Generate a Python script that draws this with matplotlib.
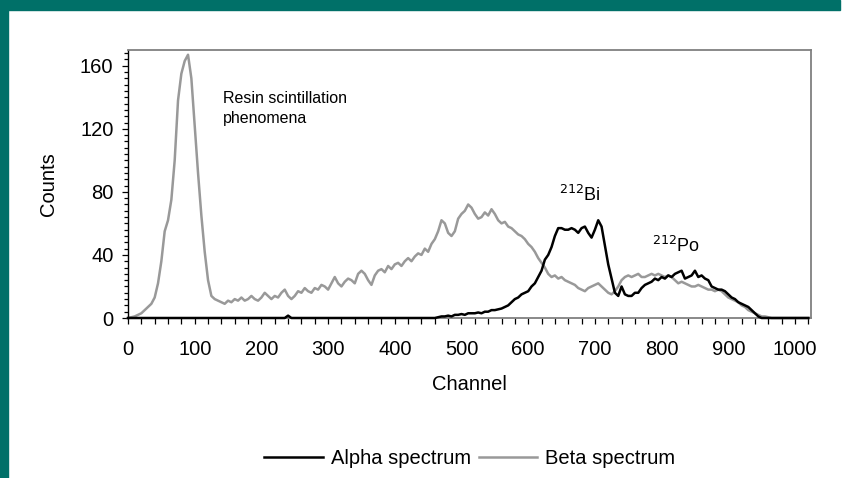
import numpy as np
import matplotlib
matplotlib.use("Agg")
import matplotlib.pyplot as plt
from matplotlib.patches import Rectangle
from matplotlib.ticker import MultipleLocator

plt.rcParams['font.family'] = ['Liberation Sans', 'DejaVu Sans']

# channel grid (every 5 channels) for both spectra
channels = list(range(0, 1025, 5))

beta_counts = [
    0, 0.5, 1, 2, 3, 5, 7, 9, 13, 22,                     # 0-45
    36, 55, 62, 75, 100, 138, 155, 163, 167, 152,         # 50-95
    122, 92, 65, 42, 24, 14, 12, 11, 10, 9,               # 100-145
    11, 10, 12, 11, 13, 11, 12, 14, 12, 11,               # 150-195
    13, 16, 14, 12, 14, 13, 16, 18, 14, 12,               # 200-245
    14, 17, 16, 19, 17, 16, 19, 18, 21, 20,               # 250-295
    18, 22, 26, 22, 20, 23, 25, 24, 22, 28,               # 300-345
    30, 28, 24, 21, 27, 30, 31, 29, 33, 31,               # 350-395
    34, 35, 33, 36, 38, 36, 39, 41, 40, 44,               # 400-445
    42, 47, 50, 55, 62, 60, 54, 52, 55, 63,               # 450-495
    66, 68, 72, 70, 66, 63, 64, 67, 65, 69,               # 500-545
    66, 62, 60, 61, 58, 57, 55, 53, 52, 50,               # 550-595
    47, 45, 42, 38, 35, 32, 28, 26, 27, 25,               # 600-645
    26, 24, 23, 22, 21, 19, 18, 17, 19, 20,               # 650-695
    21, 22, 20, 18, 16, 15, 17, 20, 24, 26,               # 700-745
    27, 26, 27, 28, 26, 26, 27, 28, 27, 28,               # 750-795
    27, 26, 27, 26, 24, 22, 23, 22, 21, 20,               # 800-845
    20, 21, 20, 19, 18, 18, 17, 18, 17, 15,               # 850-895
    13, 12, 11, 10, 8, 7, 5, 4, 3, 2,                     # 900-945
    1, 1, 0.5, 0, 0, 0, 0, 0, 0, 0,                       # 950-995
    0, 0, 0, 0, 0,                                        # 1000-1020
]

alpha_counts = [
    0, 0, 0, 0, 0, 0, 0, 0, 0, 0,                         # 0-45
    0, 0, 0, 0, 0, 0, 0, 0, 0, 0,                         # 50-95
    0, 0, 0, 0, 0, 0, 0, 0, 0, 0,                         # 100-145
    0, 0, 0, 0, 0, 0, 0, 0, 0, 0,                         # 150-195
    0, 0, 0, 0, 0, 0, 0, 0, 1.5, 0,                       # 200-245
    0, 0, 0, 0, 0, 0, 0, 0, 0, 0,                         # 250-295
    0, 0, 0, 0, 0, 0, 0, 0, 0, 0,                         # 300-345
    0, 0, 0, 0, 0, 0, 0, 0, 0, 0,                         # 350-395
    0, 0, 0, 0, 0, 0, 0, 0, 0, 0,                         # 400-445
    0, 0, 0, 0.5, 1, 1, 1.5, 1, 2, 2,                     # 450-495
    2.5, 2, 3, 3, 3, 3.5, 3, 4, 4, 5,                     # 500-545
    5, 5.5, 6, 7, 8, 10, 12, 13, 15, 16,                  # 550-595
    17, 20, 22, 26, 30, 37, 40, 45, 52, 57,               # 600-645
    57, 56, 56, 57, 56, 54, 57, 58, 54, 51,               # 650-695
    56, 62, 58, 46, 34, 25, 16, 14, 20, 15,               # 700-745
    14, 14, 16, 16, 19, 21, 22, 23, 25, 24,               # 750-795
    26, 25, 27, 26, 28, 29, 30, 25, 26, 27,               # 800-845
    30, 26, 27, 25, 24, 20, 19, 18, 18, 17,               # 850-895
    15, 13, 12, 10, 9, 8, 7, 5, 3, 1,                     # 900-945
    0, 0, 0, 0, 0, 0, 0, 0, 0, 0,                         # 950-995
    0, 0, 0, 0, 0,                                        # 1000-1020
]

teal = '#007068'
grey_line = '#999999'

fig = plt.figure(figsize=(8.52, 4.78), dpi=100)
fig.patch.set_facecolor('white')

# slide frame: band along the top and the left edge
fig.patches.append(Rectangle((0, 1 - 10 / 478), 840 / 852, 10 / 478,
                             transform=fig.transFigure, color=teal, zorder=0))
fig.patches.append(Rectangle((0, 0), 8 / 852, 1,
                             transform=fig.transFigure, color=teal, zorder=0))

ax = fig.add_axes([128 / 852, 1 - 318 / 478, 683 / 852, 268 / 478])

ax.plot(channels, beta_counts, color=grey_line, lw=1.8, label='Beta spectrum',
        clip_on=False, zorder=2)
ax.plot(channels, alpha_counts, color='black', lw=1.8, label='Alpha spectrum',
        clip_on=False, zorder=3)

ax.set_xlim(0, 1024)
ax.set_ylim(0, 170)
ax.xaxis.set_major_locator(MultipleLocator(100))
ax.xaxis.set_minor_locator(MultipleLocator(20))
ax.yaxis.set_major_locator(MultipleLocator(40))
ax.yaxis.set_minor_locator(MultipleLocator(4))
ax.tick_params(axis='both', which='both', direction='out', color='black',
               labelsize=14.5, width=0.9)
ax.tick_params(axis='x', which='both', length=4.5, pad=11)
ax.tick_params(axis='y', which='major', length=4.5, pad=6)
ax.tick_params(axis='y', which='minor', length=3)

for side in ('top', 'right', 'bottom'):
    ax.spines[side].set_color('#808080')
    ax.spines[side].set_linewidth(1.3)
ax.spines['left'].set_color('black')
ax.spines['left'].set_linewidth(1.0)

ax.set_xlabel('Channel', fontsize=14.5, labelpad=12)
ax.set_ylabel('Counts', fontsize=14.5, labelpad=16)

ax.text(142, 133, 'Resin scintillation\nphenomena', fontsize=11.5,
        linespacing=1.45, va='center', ha='left')
ax.text(678, 78, r'$^{212}$Bi', fontsize=13, ha='center', va='center')
ax.text(822, 46, r'$^{212}$Po', fontsize=13, ha='center', va='center')

handles, labels = ax.get_legend_handles_labels()
fig.legend(handles[::-1], labels[::-1], loc='center', ncol=2,
           bbox_to_anchor=(470 / 852, 1 - 459 / 478), frameon=False,
           fontsize=14.5, handlelength=2.9, handletextpad=0.4,
           columnspacing=0.4)

fig.savefig('out.png', dpi=100, facecolor='white')
